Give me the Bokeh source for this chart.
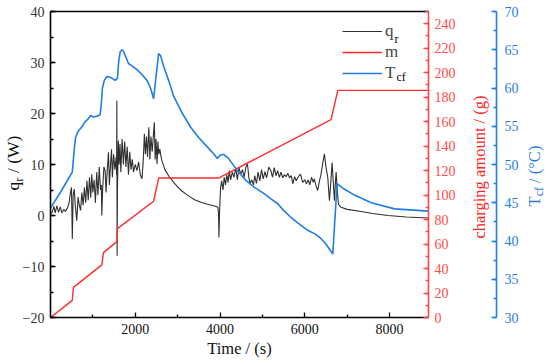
import math
from bokeh.plotting import figure
from bokeh.models import (Range1d, LinearAxis, SingleIntervalTicker, FixedTicker,
                          Legend, LegendItem, Label, Div)
from bokeh.layouts import column
from bokeh.embed import file_html
from bokeh.resources import INLINE

# ---------------- data ----------------
t_q = [0, 40, 80, 110, 150, 190, 230, 270, 310, 350, 400, 440, 470, 495, 515, 535, 560, 590, 620, 650,
       680, 710, 740, 770, 800, 830, 860, 890, 920, 950, 974, 1000, 1030, 1060, 1090, 1120, 1150, 1180,
       1200, 1211, 1230, 1260, 1289, 1310, 1340, 1368, 1390, 1420, 1440, 1460, 1490, 1520, 1550, 1560,
       1566, 1572, 1580, 1600, 1620, 1640, 1660, 1690, 1720, 1750, 1780, 1810, 1840, 1870, 1900, 1930,
       1960, 2000, 2040, 2080, 2120, 2159, 2190, 2215, 2240, 2265, 2290, 2320, 2345, 2370, 2400, 2430,
       2450, 2470, 2490, 2514, 2535, 2555, 2580, 2620, 2700, 2800, 2908, 3000, 3100, 3200, 3303, 3400,
       3550, 3700, 3850, 3950, 3965, 3975, 3990, 4014, 4040, 4070, 4100, 4130, 4160, 4190, 4220, 4250,
       4290, 4330, 4370, 4410, 4448, 4490, 4530, 4570, 4610, 4648, 4680, 4710, 4750, 4790, 4820, 4860,
       4900, 4940, 4980, 5020, 5060, 5100, 5150, 5200, 5240, 5280, 5320, 5360, 5400, 5440, 5480, 5520,
       5560, 5600, 5640, 5680, 5720, 5760, 5800, 5840, 5900, 5950, 6000, 6040, 6080, 6120, 6160, 6200,
       6226, 6260, 6305, 6340, 6384, 6420, 6464, 6500, 6543, 6582, 6610, 6645, 6670, 6700, 6720, 6740,
       6765, 6795, 6858, 7000, 7332, 7600, 7965, 8400, 8920]
q_r = [0.4, 0.6, 1.8, 0.5, 1.9, 0.6, 1.7, 0.5, 1.2, 0.8, 1.5, 2.5, 4.5, 5.5, -4.6, 4.0, 5.2, 1.5, -1.0, 3.6,
       2.0, 1.0, 4.5, 2.0, 5.5, 2.5, 6.8, 3.0, 7.5, 3.5, 8.1, 4.5, 7.0, 2.5, 8.5, 4.0, 9.5, 5.0,
       6.0, 0.0, 5.0, 9.5, 8.8, 4.5, 9.0, 12.4, 6.0, 10.5, 13.0, 7.5, 12.0, 9.0, 11.5, 8.0,
       22.5, -7.9, 5.0, 14.7, 10.0, 14.0, 8.5, 15.0, 10.0, 14.5, 9.5, 13.5, 8.0, 12.5, 9.0, 11.0,
       8.5, 10.0, 8.8, 10.5, 8.0, 7.2, 11.0, 16.0, 12.0, 15.5, 11.5, 17.3, 11.0, 15.5, 12.5, 16.0,
       18.3, 11.0, 15.0, 10.1, 14.5, 12.0, 13.0, 11.0, 9.0, 7.6, 6.5, 5.6, 4.8, 4.2, 3.6, 3.1,
       2.6, 2.2, 1.9, 1.6, 0.5, -4.3, 1.0, 5.5, 6.8, 5.0, 7.5, 6.0, 8.0, 6.5, 8.8, 7.0,
       8.5, 7.5, 9.4, 7.0, 9.4, 8.0, 9.0, 7.5, 9.5, 10.1, 7.5, 6.2, 7.0, 6.0, 7.8, 6.3,
       8.5, 6.8, 9.0, 7.2, 8.6, 7.4, 9.5, 8.8, 7.5, 9.4, 7.8, 8.8, 7.5, 8.5, 7.4, 8.0,
       7.6, 8.3, 7.4, 7.8, 6.2, 7.6, 6.8, 7.5, 8.1, 6.5, 7.0, 6.2, 7.0, 6.0, 7.5, 6.5,
       7.2, 6.0, 4.9, 6.5, 8.1, 10.0, 12.1, 9.5, 7.5, 2.9, 6.0, 10.4, 7.0, 2.9, 6.0, 8.5,
       5.0, 2.2, 1.6, 1.2, 0.8, 0.4, 0.0, -0.3, -0.5]

t_m = [0, 514, 540, 1211, 1250, 1566, 1580, 2434, 2552, 3975, 6620, 6780, 8920]
m_g = [0, 14, 24.6, 43, 53, 62, 72.6, 95, 114, 114, 161.7, 185.6, 185.6]

t_T = [0, 250, 514, 560, 594, 650, 736, 820, 894, 950, 1012, 1100, 1171, 1200, 1225, 1270, 1329, 1400,
       1448, 1526, 1581, 1610, 1645, 1685, 1720, 1780, 1841, 1920, 2040, 2150, 2277, 2360, 2434, 2480,
       2552, 2600, 2671, 2800, 2908, 3100, 3303, 3500, 3699, 3850, 3936, 4000, 4054, 4093, 4200, 4410,
       4600, 4804, 5041, 5200, 5358, 5500, 5673, 5850, 6069, 6250, 6384, 6500, 6661, 6763, 6900, 7173,
       7569, 8121, 8920]
T_cf = [44.3, 46.5, 49.0, 52.0, 53.6, 54.3, 54.9, 55.6, 56.0, 56.4, 56.2, 56.3, 56.5, 58.0, 60.0, 61.0,
        61.5, 61.4, 61.3, 61.0, 61.3, 63.5, 64.75, 65.0, 64.8, 64.0, 63.2, 62.9, 62.4, 61.8, 61.0, 60.0,
        58.6, 61.0, 64.5, 64.2, 62.8, 60.8, 58.9, 56.8, 54.9, 53.5, 52.3, 51.4, 50.8, 51.2, 51.3, 51.3,
        50.8, 49.2, 48.0, 47.05, 46.2, 45.5, 44.9, 44.0, 43.1, 42.3, 41.4, 40.9, 40.3, 39.6, 38.3, 47.5,
        46.9, 46.0, 45.0, 44.2, 43.9]

x_major = [2000, 4000, 6000, 8000]
x_minor = [1000, 3000, 5000, 7000]

# ---------------- style ----------------
FONT = "Liberation Serif"
BLACK = "#303030"
RED = "#ff2b2b"
RED_AX = "#ff4a4a"
BLUE = "#1f7de6"

W, H = 550, 364
p = figure(width=W, height=H, output_backend="svg", toolbar_location=None,
           x_range=Range1d(0, 8920), y_range=Range1d(-20, 40),
           min_border_left=50, min_border_right=122, min_border_top=11, min_border_bottom=47)
p.extra_y_ranges = {"m": Range1d(0, 250), "T": Range1d(30, 70)}
p.xgrid.visible = False
p.ygrid.visible = False
p.outline_line_color = None
p.background_fill_color = "white"
p.border_fill_color = "white"


def style(ax, color, label_color=None, size="14px"):
    ax.axis_line_color = color
    ax.axis_line_width = 1.6
    ax.major_tick_line_color = color
    ax.minor_tick_line_color = color
    ax.major_tick_line_width = 1.3
    ax.minor_tick_line_width = 1.3
    ax.major_tick_in = 5
    ax.major_tick_out = 0
    ax.minor_tick_in = 3
    ax.minor_tick_out = 0
    ax.major_label_text_font = FONT
    ax.major_label_text_font_size = size
    ax.major_label_text_color = label_color or color
    ax.axis_label_text_font = FONT
    ax.axis_label_text_font_style = "normal"
    ax.axis_label_text_font_size = "16.5px"
    ax.axis_label_text_color = label_color or color


xa = p.xaxis[0]
xa.ticker = FixedTicker(ticks=x_major, minor_ticks=x_minor)
style(xa, "black", "#111111")
xa.axis_label = "Time / (s)"
xa.major_label_standoff = 6
xa.axis_label_standoff = 2

ya = p.yaxis[0]
ya.ticker = SingleIntervalTicker(interval=10, num_minor_ticks=2)
style(ya, "black", "#333333")
ya.major_label_standoff = 6

top = LinearAxis(ticker=FixedTicker(ticks=[]), major_label_text_font_size="0px",
                 axis_line_color="black", axis_line_width=1.6,
                 major_tick_in=0, major_tick_out=0, minor_tick_in=0, minor_tick_out=0)
p.add_layout(top, "above")

ra = LinearAxis(y_range_name="m", ticker=SingleIntervalTicker(interval=20, num_minor_ticks=2))
style(ra, RED_AX, RED_AX)
ra.major_label_standoff = 6
p.add_layout(ra, "right")

# invisible spacer axis that leaves room for the red axis title
spacer = LinearAxis(y_range_name="m", ticker=FixedTicker(ticks=[125]), axis_line_color=None,
                    major_tick_line_color=None, minor_tick_line_color=None,
                    major_tick_in=0, major_tick_out=38, minor_tick_in=0, minor_tick_out=0,
                    major_label_standoff=0, major_label_overrides={125: ""},
                    major_label_text_font_size="1px")
p.add_layout(spacer, "right")

ba = LinearAxis(y_range_name="T", ticker=SingleIntervalTicker(interval=5, num_minor_ticks=2))
style(ba, BLUE, BLUE)
ba.major_label_standoff = 8
p.add_layout(ba, "right")

# ---------------- lines ----------------
rq = p.line(t_q, q_r, line_color=BLACK, line_width=1.1)
rm = p.line(t_m, m_g, line_color=RED, line_width=1.4, y_range_name="m")
rT = p.line(t_T, T_cf, line_color=BLUE, line_width=1.6, y_range_name="T")

legend = Legend(items=[LegendItem(label="q", renderers=[rq]),
                       LegendItem(label="m", renderers=[rm]),
                       LegendItem(label="T", renderers=[rT])],
                location=(292, 234), padding=0, margin=0, spacing=1,
                glyph_width=40, glyph_height=18, label_height=18, label_standoff=3,
                label_text_font=FONT, label_text_font_size="17px",
                border_line_color=None, background_fill_alpha=0)
p.add_layout(legend)


def lab(text, x, y, size, color):
    p.add_layout(Label(x=x, y=y, x_units="screen", y_units="screen", text=text,
                       text_font=FONT, text_font_size=size, text_color=color,
                       text_align="left", text_baseline="alphabetic"))


# legend subscripts
lab("r", 344, 279, "12px", "black")
lab("cf", 346, 241, "12px", "black")

# ---------------- rotated axis titles (with subscripts) ----------------
base = ("position:absolute;white-space:nowrap;font-family:'Liberation Serif',serif;"
        "font-size:16.5px;line-height:1;transform:translate(-50%,-50%) rotate(-90deg);")
sub = "font-size:0.72em;vertical-align:-0.28em;line-height:0;"
html = (
    '<div style="position:relative;width:550px;height:364px;pointer-events:none;">'
    f'<div style="{base}left:14px;top:163px;color:#111111;font-size:17.5px;">'
    f'q<span style="{sub}">r</span> / (W)</div>'
    f'<div style="{base}left:480px;top:167px;color:#ff2020;">charging amount / (g)</div>'
    f'<div style="{base}left:535px;top:176px;color:{BLUE};">T<span style="{sub}">cf</span> / (°C)</div>'
    '</div>'
)
overlay = Div(text=html, width=550, height=364, margin=(-364, 0, 0, 0))

layout = column(p, overlay, spacing=0)
open("out.html", "w").write(file_html(layout, INLINE))
